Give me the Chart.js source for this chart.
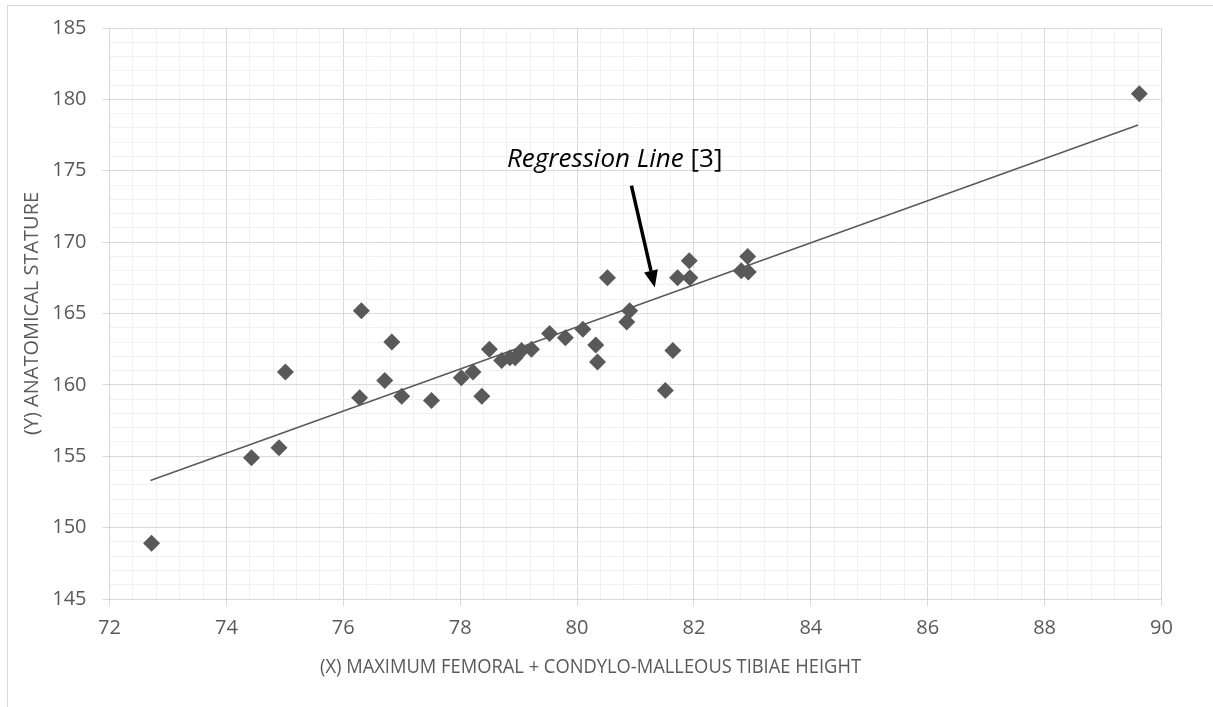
<!DOCTYPE html>
<html>
<head>
<meta charset="utf-8">
<title>Anatomical stature vs femoral + tibial height</title>
<script src="https://cdn.jsdelivr.net/npm/chart.js@4.4.1/dist/chart.umd.min.js"></script>
<style>
  html, body { margin: 0; padding: 0; background: #fff; overflow: hidden; }
  #wrap { position: relative; width: 1213px; height: 707px; overflow: hidden; }
  #frame { position: absolute; left: 7px; top: 5px; width: 1300px; height: 800px; border: 1px solid #d9d9d9; }
  #chart { position: absolute; left: 0; top: 0; }
</style>
</head>
<body>
<div id="wrap">
  <div id="frame"></div>
  <canvas id="chart" width="1213" height="707"></canvas>
</div>
<script>
// Datos
var FEMUR_TIBIA_X = [
  72.72, 74.43, 74.90, 75.01, 76.28, 76.31, 76.71, 76.83, 77.00, 77.51,
  78.02, 78.22, 78.37, 78.50, 78.71, 78.85, 78.94, 79.05, 79.22, 79.53,
  79.80, 80.10, 80.32, 80.35, 80.52, 80.85, 80.90, 81.51, 81.64, 81.72,
  81.92, 81.93, 82.81, 82.93, 82.92, 89.62
];
var STATURE_Y = [
  148.9, 154.9, 155.6, 160.9, 159.1, 165.2, 160.3, 163.0, 159.2, 158.9,
  160.5, 160.9, 159.2, 162.5, 161.7, 161.9, 161.9, 162.4, 162.5, 163.6,
  163.3, 163.9, 162.8, 161.6, 167.5, 164.4, 165.2, 159.6, 162.4, 167.5,
  168.7, 167.5, 168.0, 167.9, 169.0, 180.4
];
var REG_LINE_X = [72.7, 89.6];
var REG_LINE_Y = [153.3, 178.2];

var X_RANGE = [72, 90];
var Y_RANGE = [145, 185];
var X_MAJOR_STEP = 2, X_MINOR_STEP = 0.4;
var Y_MAJOR_STEP = 5, Y_MINOR_STEP = 1;

var X_TITLE = '(X) MAXIMUM FEMORAL + CONDYLO-MALLEOUS TIBIAE HEIGHT';
var Y_TITLE = '(Y) ANATOMICAL STATURE';
var NOTE_ITALIC = 'Regression Line';
var NOTE_PLAIN = ' [3]';
// posiciones de la nota y la flecha, en unidades de datos
var NOTE_AT = [78.80, 175.23];
var ARROW_FROM = [80.93, 173.96];
var ARROW_TO = [81.33, 166.83];

(function () {
  'use strict';

  var COLOR_MARK = '#595959';
  var COLOR_TEXT = '#595959';
  var COLOR_MAJOR = '#d9d9d9';
  var COLOR_MINOR = '#f0f0f0';
  var FONT = '"Open Sans", Lato, sans-serif';

  function isMultiple(v, step) {
    var r = v / step;
    return Math.abs(r - Math.round(r)) < 1e-6;
  }

  var points = FEMUR_TIBIA_X.map(function (x, i) { return { x: x, y: STATURE_Y[i] }; });
  var regLine = REG_LINE_X.map(function (x, i) { return { x: x, y: REG_LINE_Y[i] }; });

  function drawArrow(ctx, x1, y1, x2, y2) {
    var ang = Math.atan2(y2 - y1, x2 - x1);
    var headLen = 17, headHalf = 7;
    var bx = x2 - headLen * Math.cos(ang);
    var by = y2 - headLen * Math.sin(ang);
    ctx.strokeStyle = '#000';
    ctx.fillStyle = '#000';
    ctx.lineWidth = 3.5;
    ctx.beginPath();
    ctx.moveTo(x1, y1);
    ctx.lineTo(bx, by);
    ctx.stroke();
    ctx.beginPath();
    ctx.moveTo(x2, y2);
    ctx.lineTo(bx + headHalf * Math.sin(ang), by - headHalf * Math.cos(ang));
    ctx.lineTo(bx - headHalf * Math.sin(ang), by + headHalf * Math.cos(ang));
    ctx.closePath();
    ctx.fill();
  }

  var notesPlugin = {
    id: 'notes',
    afterDraw: function (chart) {
      var ctx = chart.ctx;
      var xs = chart.scales.x, ys = chart.scales.y, area = chart.chartArea;
      ctx.save();

      // títulos de ejes (ancho ajustado al original)
      ctx.fillStyle = COLOR_TEXT;
      ctx.font = '20px ' + FONT;
      ctx.textAlign = 'center';
      ctx.textBaseline = 'alphabetic';
      ctx.fillText(X_TITLE, 590.5, 672.5, 541);
      ctx.save();
      ctx.translate(38, (area.top + area.bottom) / 2);
      ctx.rotate(-Math.PI / 2);
      ctx.fillText(Y_TITLE, 0, 0, 261);
      ctx.restore();

      // nota "Regression Line [3]"
      var nx = xs.getPixelForValue(NOTE_AT[0]);
      var ny = ys.getPixelForValue(NOTE_AT[1]);
      ctx.fillStyle = '#000';
      ctx.textAlign = 'left';
      ctx.font = 'italic 26px ' + FONT;
      var w1 = ctx.measureText(NOTE_ITALIC).width;
      ctx.font = '26px ' + FONT;
      var w2 = ctx.measureText(NOTE_PLAIN).width;
      var k = Math.min(1, 221 / (w1 + w2));
      ctx.font = 'italic 26px ' + FONT;
      ctx.fillText(NOTE_ITALIC, nx, ny, w1 * k);
      ctx.font = '26px ' + FONT;
      ctx.fillText(NOTE_PLAIN, nx + w1 * k, ny, w2 * k);

      drawArrow(ctx,
        xs.getPixelForValue(ARROW_FROM[0]), ys.getPixelForValue(ARROW_FROM[1]),
        xs.getPixelForValue(ARROW_TO[0]), ys.getPixelForValue(ARROW_TO[1]));
      ctx.restore();
    }
  };

  var ctx = document.getElementById('chart').getContext('2d');
  new Chart(ctx, {
    type: 'scatter',
    data: {
      datasets: [
        {
          label: 'Stature',
          data: points,
          pointStyle: 'rectRot',
          pointRadius: 8.5,
          pointHoverRadius: 8.5,
          backgroundColor: COLOR_MARK,
          borderColor: COLOR_MARK,
          borderWidth: 0
        },
        {
          type: 'line',
          label: 'Regression line',
          data: regLine,
          borderColor: COLOR_MARK,
          borderWidth: 1.5,
          pointRadius: 0,
          fill: false,
          tension: 0
        }
      ]
    },
    options: {
      responsive: false,
      animation: false,
      events: [],
      layout: { padding: { left: 0, top: 25, right: 51.5, bottom: 0 } },
      plugins: {
        legend: { display: false },
        tooltip: { enabled: false }
      },
      scales: {
        x: {
          type: 'linear',
          min: X_RANGE[0],
          max: X_RANGE[1],
          afterFit: function (scale) { scale.height = 108; },
          border: { color: COLOR_MAJOR, width: 1 },
          grid: {
            color: function (c) { return c.tick && isMultiple(c.tick.value, X_MAJOR_STEP) ? COLOR_MAJOR : COLOR_MINOR; },
            tickColor: function (c) { return c.tick && isMultiple(c.tick.value, X_MAJOR_STEP) ? COLOR_MAJOR : 'rgba(0,0,0,0)'; },
            tickLength: 7,
            lineWidth: 1
          },
          ticks: {
            stepSize: X_MINOR_STEP,
            autoSkip: false,
            maxRotation: 0,
            minRotation: 0,
            padding: 10,
            color: COLOR_TEXT,
            font: { family: FONT, size: 20 },
            callback: function (v) { return isMultiple(v, X_MAJOR_STEP) ? String(Math.round(v)) : ''; }
          }
        },
        y: {
          type: 'linear',
          min: Y_RANGE[0],
          max: Y_RANGE[1],
          afterFit: function (scale) { scale.width = 109.5; },
          border: { color: COLOR_MAJOR, width: 1 },
          grid: {
            color: function (c) { return c.tick && isMultiple(c.tick.value, Y_MAJOR_STEP) ? COLOR_MAJOR : COLOR_MINOR; },
            tickColor: function (c) { return c.tick && isMultiple(c.tick.value, Y_MAJOR_STEP) ? COLOR_MAJOR : 'rgba(0,0,0,0)'; },
            tickLength: 7,
            lineWidth: 1
          },
          ticks: {
            stepSize: Y_MINOR_STEP,
            autoSkip: false,
            padding: 16,
            color: COLOR_TEXT,
            font: { family: FONT, size: 20 },
            callback: function (v) { return isMultiple(v, Y_MAJOR_STEP) ? String(Math.round(v)) : ''; }
          }
        }
      }
    },
    plugins: [notesPlugin]
  });
})();
</script>
</body>
</html>
